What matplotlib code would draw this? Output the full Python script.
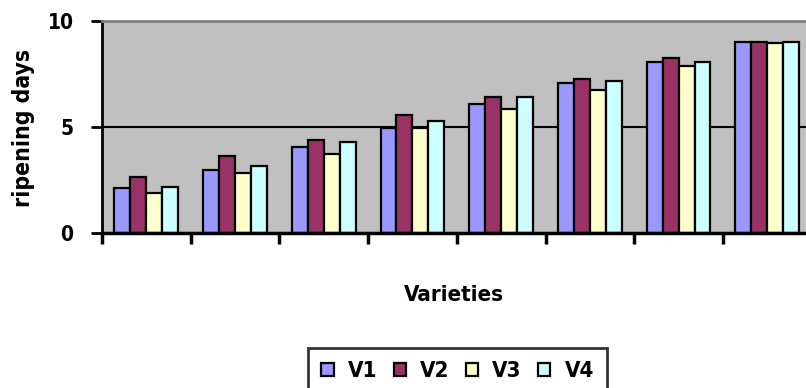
import matplotlib
matplotlib.use("Agg")
import matplotlib.pyplot as plt
import numpy as np

groups = ["1", "2", "3", "4", "5", "6", "7", "8"]
series_names = ["V1", "V2", "V3", "V4"]
v1 = [2.15, 2.98, 4.08, 4.95, 6.09, 7.09, 8.05, 9.02]
v2 = [2.67, 3.66, 4.39, 5.57, 6.41, 7.27, 8.24, 9.02]
v3 = [1.91, 2.83, 3.74, 4.95, 5.84, 6.75, 7.88, 8.95]
v4 = [2.20, 3.18, 4.32, 5.29, 6.41, 7.17, 8.05, 9.02]
colors = ["#9999FF", "#993366", "#FFFFCC", "#CCFFFF"]

plt.rcParams["font.family"] = ["DejaVu Sans"]
plt.rcParams["font.stretch"] = "condensed"
plt.rcParams["font.weight"] = "bold"

W, H = 806, 388
fig = plt.figure(figsize=(W / 100, H / 100), dpi=100)
fig.patch.set_facecolor("white")

ax_left, ax_right = 102, 811.6
ax_top, ax_bot = 21, 233.3
ax = fig.add_axes([ax_left / W, 1 - ax_bot / H, (ax_right - ax_left) / W, (ax_bot - ax_top) / H])
ax.set_facecolor("#C0C0C0")

n = len(groups)
x = np.arange(n) + 0.5
bw = 0.18
data = [v1, v2, v3, v4]
handles = []
for i, (vals, c, name) in enumerate(zip(data, colors, series_names)):
    h = ax.bar(x + (i - 1.5) * bw, vals, width=bw, color=c, edgecolor="black",
               linewidth=1.6, label=name, zorder=3)
    handles.append(h)

ax.set_xlim(0, n)
ax.set_ylim(0, 10)
ax.set_yticks([0, 5, 10])
ax.set_xticks(np.arange(0, n + 1))
ax.set_xticklabels([])
ax.axhline(5, color="black", linewidth=1.5, zorder=1)

ax.spines["right"].set_visible(False)
ax.spines["top"].set_color("#808080")
ax.spines["top"].set_linewidth(2)
ax.spines["left"].set_linewidth(2)
ax.spines["bottom"].set_linewidth(2.5)
ax.spines["bottom"].set_zorder(4)

ax.tick_params(axis="y", direction="out", length=8, width=2, pad=12.5,
               labelsize=15)
ax.tick_params(axis="x", direction="out", length=8, width=2.5)
for lab in ax.get_yticklabels():
    lab.set_fontweight("bold")

ax.set_ylabel("ripening days", fontsize=16.5, fontweight="bold")
ax.yaxis.set_label_coords(-0.094, 0.498)

fig.text(453.5 / W, 1 - 295 / H, "Varieties", ha="center", va="center",
         fontsize=16, fontweight="bold")

leg = fig.legend(handles=handles, labels=series_names, loc="upper left",
                 bbox_to_anchor=(308 / W, 1 - 348 / H), ncol=4,
                 frameon=True, fancybox=False,
                 prop={"weight": "bold", "size": 16, "stretch": "condensed"},
                 handlelength=0.55, handleheight=0.55, handletextpad=0.65,
                 columnspacing=0.72, borderpad=0.6, borderaxespad=0)
leg.get_frame().set_edgecolor("black")
leg.get_frame().set_linewidth(2)
# shift frame top up to match reference box edge
fig.savefig("out.png", dpi=100)
